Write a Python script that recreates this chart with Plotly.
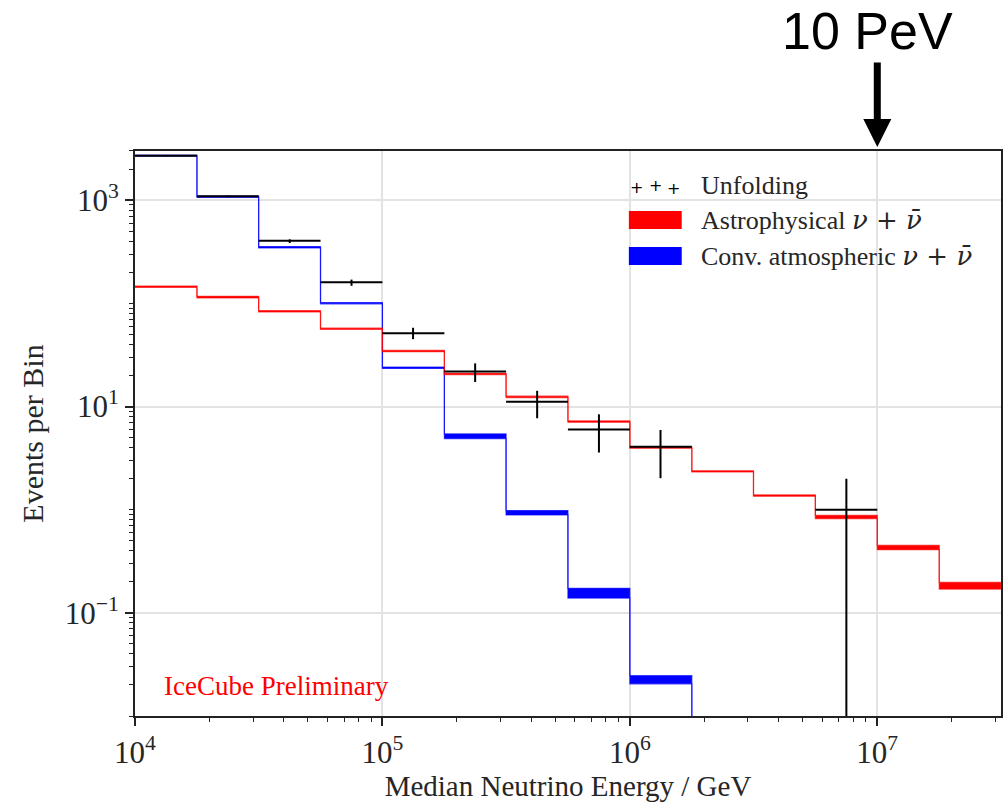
import plotly.graph_objects as go

# ---- data ----
bin_edges = [1.0e4, 1.78e4, 3.16e4, 5.62e4, 1.0e5, 1.78e5, 3.16e5, 5.62e5,
             1.0e6, 1.78e6, 3.16e6, 5.62e6, 1.0e7, 1.78e7, 3.16e7]

astro_lo = [143, 113, 82.5, 56, 34, 20.4, 12.2, 7.05, 3.95, 2.32, 1.35, 0.82, 0.41, 0.170]
astro_hi = [147, 117, 85, 57.5, 35, 21.0, 12.6, 7.25, 4.05, 2.38, 1.39, 0.88, 0.45, 0.197]

conv_lo = [2680, 1065, 345, 99, 23.4, 4.89, 0.89, 0.139, 0.0205, 0.0027]
conv_hi = [2740, 1095, 356, 102, 24.1, 5.43, 0.98, 0.173, 0.0246, 0.0033]

unf_bins = [0, 1, 2, 3, 4, 5, 6, 7, 8, 11]
unf_x = [1.33e4, 2.37e4, 4.22e4, 7.5e4, 1.33e5, 2.37e5, 4.22e5, 7.5e5, 1.33e6, 7.5e6]
unf_y = [2700, 1090, 404, 160, 51.2, 21.8, 11.1, 5.98, 4.07, 1.0]
unf_up = [2740, 1110, 418, 170, 58, 26.2, 14.2, 8.4, 5.93, 1.99]
unf_dn = [2660, 1070, 385, 148, 45, 17.3, 7.7, 3.58, 2.02, 0.0001]

x_tickvals = [1e4, 1e5, 1e6, 1e7]
x_ticktext = ["10<sup>4</sup>", "10<sup>5</sup>", "10<sup>6</sup>", "10<sup>7</sup>"]
y_tickvals = [0.1, 10, 1000]
y_ticktext = ["10<sup>\u22121</sup>", "10<sup>1</sup>", "10<sup>3</sup>"]

SERIF = "Liberation Serif"
TXT = "#262626"

fig = go.Figure()


def add_band(lo, hi, fill, line):
    xs = bin_edges[:len(lo) + 1]
    fig.add_trace(go.Scatter(x=xs, y=lo + [lo[-1]], mode="lines",
                             line=dict(shape="hv", color=line, width=1.2),
                             showlegend=False, hoverinfo="skip"))
    fig.add_trace(go.Scatter(x=xs, y=hi + [hi[-1]], mode="lines",
                             line=dict(shape="hv", color=line, width=1.2),
                             fill="tonexty", fillcolor=fill,
                             showlegend=False, hoverinfo="skip"))


add_band(conv_lo, conv_hi, "rgb(0,0,255)", "rgba(0,0,255,0.7)")
add_band(astro_lo, astro_hi, "rgb(255,0,0)", "rgba(255,0,0,0.7)")

x_plus = [bin_edges[i + 1] - c for i, c in zip(unf_bins, unf_x)]
x_minus = [c - bin_edges[i] for i, c in zip(unf_bins, unf_x)]
y_plus = [u - v for u, v in zip(unf_up, unf_y)]
y_minus = [v - d for v, d in zip(unf_y, unf_dn)]

fig.add_trace(go.Scatter(
    x=unf_x, y=unf_y, mode="markers",
    marker=dict(size=1, color="black"),
    error_x=dict(type="data", symmetric=False, array=x_plus, arrayminus=x_minus,
                 color="black", thickness=2, width=0),
    error_y=dict(type="data", symmetric=False, array=y_plus, arrayminus=y_minus,
                 color="black", thickness=2, width=0),
    showlegend=False, hoverinfo="skip"))

x_minor = [m * 10 ** e for e in range(4, 8) for m in range(2, 10)]
y_minor = [m * 10 ** e for e in range(-2, 4) for m in range(1, 10)
           if not (m == 1 and e in (-1, 1, 3))]

fig.update_layout(
    width=1007, height=804,
    margin=dict(l=135, r=4, t=151, b=88),
    paper_bgcolor="white", plot_bgcolor="white",
    font=dict(family=SERIF, color=TXT, size=26),
    xaxis=dict(type="log", range=[4, 7.5],
               showline=True, linecolor="#222", linewidth=2, mirror=True,
               ticks="outside", ticklen=8, tickwidth=1.5, tickcolor="#222",
               tickmode="array", tickvals=x_tickvals, ticktext=x_ticktext,
               tickfont=dict(size=31, family=SERIF, color=TXT),
               showgrid=True, gridcolor="#e3e3e3", gridwidth=2,
               zeroline=False,
               minor=dict(tickmode="array", tickvals=x_minor, ticks="outside",
                          ticklen=4, tickwidth=1, tickcolor="#222", showgrid=False),
               title=dict(text="Median Neutrino Energy / GeV",
                          font=dict(size=29, family=SERIF, color=TXT), standoff=4)),
    yaxis=dict(type="log", range=[-2, 3.477],
               showline=True, linecolor="#222", linewidth=2, mirror=True,
               ticks="outside", ticklen=8, tickwidth=1.5, tickcolor="#222",
               tickmode="array", tickvals=y_tickvals, ticktext=y_ticktext,
               tickfont=dict(size=31, family=SERIF, color=TXT),
               showgrid=True, gridcolor="#e3e3e3", gridwidth=2,
               zeroline=False,
               minor=dict(tickmode="array", tickvals=y_minor, ticks="outside",
                          ticklen=4, tickwidth=1, tickcolor="#222", showgrid=False),
               title=dict(text="Events per Bin",
                          font=dict(size=30, family=SERIF, color=TXT), standoff=12)),
    showlegend=False,
)


def px(x):
    return (x - 135) / 868


def py(y):
    return (716 - y) / 565


# manual legend (matplotlib-style)
shapes = []
for (y0, y1, col) in [(211, 229, "rgb(255,0,0)"), (247, 265, "rgb(0,0,255)")]:
    shapes.append(dict(type="rect", xref="paper", yref="paper",
                       x0=px(630), x1=px(683), y0=py(y1), y1=py(y0),
                       fillcolor=col, line=dict(width=0), layer="above"))
fig.update_layout(shapes=shapes)

NU = ("<span style='font-family:DejaVu Serif'><i>\u03bd</i> + "
      "<i>\u03bd\u0304</i></span>")

annotations = []
for xp, yp in [(638, 187), (657, 185), (675, 188)]:
    annotations.append(dict(x=px(xp), y=py(yp), xref="paper", yref="paper",
                            text="+", showarrow=False,
                            font=dict(size=16, family="DejaVu Sans", color="black"),
                            xanchor="center", yanchor="middle"))
for txt, yp in [("Unfolding", 185),
                ("Astrophysical " + NU, 220),
                ("Conv. atmospheric " + NU, 256)]:
    annotations.append(dict(x=px(700), y=py(yp), xref="paper", yref="paper",
                            text=txt, showarrow=False,
                            font=dict(size=26, family=SERIF, color=TXT),
                            xanchor="left", yanchor="middle"))
annotations.append(dict(x=px(162), y=py(686), xref="paper", yref="paper",
                        text="IceCube Preliminary", showarrow=False,
                        font=dict(size=27, family=SERIF, color="red"),
                        xanchor="left", yanchor="middle"))
annotations.append(dict(x=7, y=1, xref="x", yref="paper", text="",
                        showarrow=True, arrowhead=2, arrowsize=0.8, arrowwidth=7,
                        arrowcolor="black", ax=0, ay=-90, standoff=4))
annotations.append(dict(x=7, y=py(31), xref="x", yref="paper", text="10 PeV",
                        showarrow=False, xanchor="center", yanchor="middle",
                        font=dict(size=52, family="Liberation Sans", color="black"),
                        xshift=-10))
fig.update_layout(annotations=annotations)

fig.write_html("out.html")
